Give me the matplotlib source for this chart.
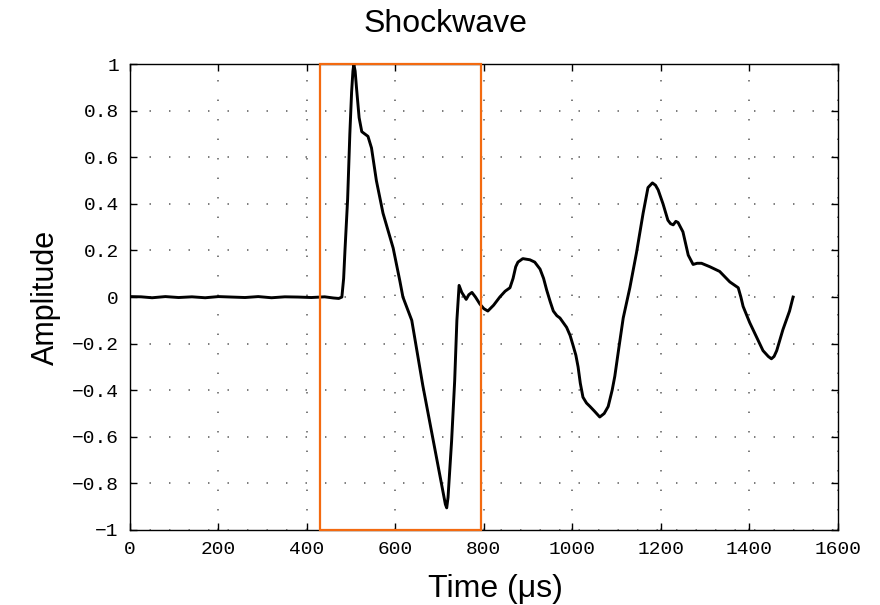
import matplotlib
matplotlib.use('Agg')
import matplotlib.pyplot as plt
from matplotlib.patches import Rectangle

# waveform (time in microseconds, normalised amplitude)
t = [0, 25, 50, 80, 110, 140, 170, 200, 230, 260, 290, 320, 350, 380, 410, 440, 460, 472, 479,
     483, 486, 492, 497, 501, 504, 506, 509, 512, 518, 524, 531, 538, 546, 557, 572, 595, 610,
     617, 637, 662, 685, 700, 708, 713, 716, 719, 727, 734, 739, 744, 750, 760, 766, 773, 781,
     791, 800, 809, 822, 836, 848, 859, 866, 872, 877, 888, 904, 915, 927, 935, 942, 950, 957,
     965, 972, 987, 995, 1002, 1008, 1013, 1018, 1024, 1032, 1040, 1050, 1062, 1072, 1081,
     1090, 1096, 1105, 1115, 1130, 1145, 1160, 1171, 1181, 1188, 1194, 1205, 1216, 1222, 1228,
     1234, 1239, 1250, 1256, 1262, 1273, 1282, 1292, 1311, 1333, 1356, 1375, 1381, 1386, 1401,
     1416, 1431, 1443, 1450, 1456, 1462, 1476, 1491, 1499]
amp = [0.002, 0.001, -0.003, 0.002, -0.002, 0.001, -0.003, 0.002, 0.0, -0.002, 0.002, -0.003,
       0.001, 0.0, -0.002, 0.001, -0.004, -0.006, 0.0,
       0.08, 0.2, 0.42, 0.70, 0.88, 0.97, 1.0, 0.97, 0.90, 0.77, 0.71, 0.70, 0.69, 0.64, 0.50,
       0.36, 0.21, 0.07, 0.0, -0.1, -0.38, -0.61, -0.76, -0.84, -0.89, -0.905, -0.86, -0.62,
       -0.36, -0.1, 0.05, 0.02, -0.01, 0.01, 0.02, 0.0, -0.03, -0.05, -0.06, -0.035, 0.0, 0.025,
       0.04, 0.08, 0.13, 0.15, 0.165, 0.16, 0.15, 0.12, 0.08, 0.03, -0.02, -0.06, -0.08, -0.09,
       -0.13, -0.165, -0.21, -0.25, -0.30, -0.37, -0.43, -0.455, -0.47, -0.49, -0.515, -0.50,
       -0.47, -0.40, -0.34, -0.22, -0.09, 0.04, 0.19, 0.36, 0.47, 0.49, 0.48, 0.46, 0.40, 0.33,
       0.315, 0.31, 0.325, 0.32, 0.28, 0.23, 0.18, 0.14, 0.145, 0.145, 0.13, 0.11, 0.065, 0.04,
       0.0, -0.04, -0.11, -0.17, -0.23, -0.255, -0.265, -0.255, -0.23, -0.14, -0.06, 0.0]

# highlighted window
box_t0, box_t1 = 429, 793

xticks = list(range(0, 1601, 200))
yticks = [-1, -0.8, -0.6, -0.4, -0.2, 0, 0.2, 0.4, 0.6, 0.8, 1]
ylabels = ['\u22121', '\u22120.8', '\u22120.6', '\u22120.4', '\u22120.2', '0',
           '0.2', '0.4', '0.6', '0.8', '1']

fig = plt.figure(figsize=(8.8, 6.05), dpi=100)
ax = fig.add_axes([0.1477, 0.124, 0.8043, 0.770])

ax.plot(t, amp, color='black', linewidth=2.1, zorder=3, solid_joinstyle='round')

ax.add_patch(Rectangle((box_t0, -1), box_t1 - box_t0, 2, fill=False,
                       edgecolor='#f36a10', linewidth=1.6, clip_on=False, zorder=5))

ax.set_xlim(0, 1600)
ax.set_ylim(-1, 1)
ax.set_xticks(xticks)
ax.set_yticks(yticks)
ax.set_yticklabels(ylabels)
ax.grid(True, color='#707070', linestyle=(0, (0.8, 10)), linewidth=1.3)
ax.tick_params(direction='in', length=5, width=1, top=True, right=True,
               labelsize=14, pad=8)
for lab in ax.get_xticklabels() + ax.get_yticklabels():
    lab.set_fontfamily('Liberation Mono')
for s in ax.spines.values():
    s.set_linewidth(1.0)

fig.text(0.506, 0.960, 'Shockwave', fontsize=23, family='Liberation Sans',
         ha='center', va='center')
ax.set_xlabel('Time (\u03bcs)', fontsize=23, family='Liberation Sans', labelpad=5)
ax.xaxis.set_label_coords(0.517, -0.095)
ax.set_ylabel('Amplitude', fontsize=22, family='Liberation Sans', labelpad=8)

fig.savefig('out.png', dpi=100)
